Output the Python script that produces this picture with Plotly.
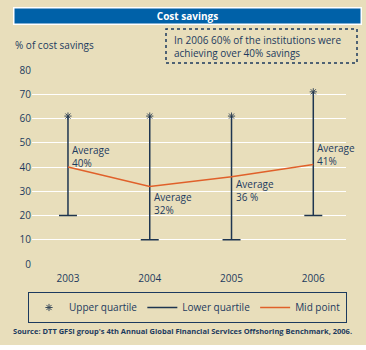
import plotly.graph_objects as go

years = [2003, 2004, 2005, 2006]
upper_quartile = [61, 61, 61, 71]
lower_quartile = [20, 10, 10, 20]
mid_point = [40, 32, 36, 41]
avg_labels = ["Average<br>40%", "Average<br>32%", "Average<br>36 %", "Average<br>41%"]
avg_label_y = [44.5, 25, 30.5, 45]
y_ticks = [0, 10, 20, 30, 40, 50, 60, 70, 80]

BG = "#E8DEBB"
NAVY = "#1C3A5E"
BLUE = "#0061A8"
ORANGE = "#E0602A"
FONT = "Open Sans"

W, H = 366, 350
L, R, T, B = 32, 20, 70, 86
pw, ph = W - L - R, H - T - B


def px(x):
    return (x - L) / pw


def py(y):
    return (H - B - y) / ph


cap = 0.11
vx, vy = [], []
for x, lo, up in zip(years, lower_quartile, upper_quartile):
    vx += [x, x, None, x - cap, x + cap, None]
    vy += [lo, up, None, lo, lo, None]

fig = go.Figure()
fig.add_trace(go.Scatter(
    x=years, y=upper_quartile, mode="markers", name="Upper quartile",
    marker=dict(symbol="asterisk-open", size=6, color="#3A4A5A", line=dict(width=1, color="#3A4A5A")),
))
fig.add_trace(go.Scatter(
    x=vx, y=vy, mode="lines", name="Lower quartile",
    line=dict(color="#1E3550", width=1.5),
))
fig.add_trace(go.Scatter(
    x=years, y=mid_point, mode="lines", name="Mid point",
    line=dict(color=ORANGE, width=1.5),
))

for x, t, y in zip(years, avg_labels, avg_label_y):
    fig.add_annotation(x=x, y=y, text=t, showarrow=False, xanchor="left", yanchor="middle",
                       xshift=2, align="left", font=dict(family=FONT, size=10, color=NAVY))

# Title bar
fig.add_annotation(xref="paper", yref="paper", x=px(187.5), y=py(16), text="<b>Cost savings</b>",
                   showarrow=False, width=346, height=15, bgcolor=BLUE, bordercolor="white",
                   borderwidth=1.5, borderpad=0, xanchor="center", yanchor="middle",
                   font=dict(family=FONT, size=10, color="white"))
# Dashed box
fig.add_shape(type="rect", xref="paper", yref="paper", x0=px(166), x1=px(357), y0=py(63), y1=py(29),
              fillcolor="rgba(0,0,0,0)", line=dict(color=NAVY, width=1.5, dash="dot"))
fig.add_annotation(xref="paper", yref="paper", x=px(172), y=py(46), xanchor="left", yanchor="middle",
                   text="In 2006 60% of the institutions were<br>achieving over 40% savings", align="left",
                   showarrow=False, font=dict(family=FONT, size=10, color=NAVY))
# Y title
fig.add_annotation(xref="paper", yref="paper", x=px(13), y=py(45), xanchor="left", yanchor="middle",
                   text="% of cost savings", showarrow=False, font=dict(family=FONT, size=10, color=NAVY))
# Source
fig.add_annotation(xref="paper", yref="paper", x=px(11), y=py(331), xanchor="left", yanchor="middle",
                   text="<b>Source: DTT GFSI group's 4th Annual Global Financial Services Offshoring Benchmark, 2006.</b>",
                   showarrow=False, font=dict(family=FONT, size=7.5, color=NAVY))
# white strip at bottom
fig.add_shape(type="rect", xref="paper", yref="paper", x0=px(-5), x1=px(W + 5), y0=py(H + 5), y1=py(345),
              fillcolor="white", line=dict(width=0), layer="above")

fig.update_layout(
    width=W, height=H,
    margin=dict(l=L, r=R, t=T, b=B),
    paper_bgcolor=BG, plot_bgcolor=BG,
    font=dict(family=FONT, size=10, color=NAVY),
    showlegend=True,
    legend=dict(orientation="h", x=px(187.5), xanchor="center", y=py(292), yanchor="top",
                bordercolor=NAVY, borderwidth=1, bgcolor="rgba(0,0,0,0)",
                font=dict(family=FONT, size=10, color=NAVY), itemwidth=30),
    xaxis=dict(range=[2002.56, 2006.4], tickvals=years, ticktext=[str(y) for y in years],
               showgrid=False, zeroline=False, showline=False, ticklabelstandoff=7,
               tickfont=dict(size=10, color=NAVY)),
    yaxis=dict(range=[0, 80], tickvals=y_ticks, showgrid=True, gridcolor="white", gridwidth=1,
               zeroline=False, showline=False, tickfont=dict(size=10, color=NAVY)),
)

fig.write_html("out.html")
